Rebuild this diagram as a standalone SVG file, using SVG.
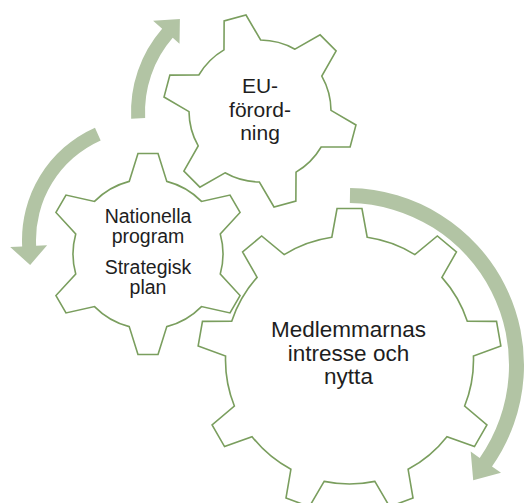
<svg xmlns="http://www.w3.org/2000/svg" width="528" height="503" viewBox="0 0 528 503">
<style>
.gear{fill:#ffffff;stroke:#7a9e5e;stroke-width:1.6;stroke-linejoin:miter}
.arrow{fill:#b2c4a4;stroke:none}
.t{font-family:"Liberation Sans",Arial,sans-serif;fill:#1e1e1e;text-anchor:middle}
</style>
<rect width="528" height="503" fill="#ffffff"/>
<g id="connectors">
<path class="arrow" d="M131.17,118.64 A127,127 0 0,1 162.15,28.68 L153.1,20.8 L179.9,18.9 L179.51,43.77 L172.72,37.86 A113,113 0 0,0 145.15,117.91 Z"/>
<path class="arrow" d="M94.98,127.64 A123,123 0 0,0 22.17,246.43 L10.19,247.06 L30.15,265.0 L47.14,245.13 L36.15,245.70 A109,109 0 0,1 100.67,140.43 Z"/>
<path class="arrow" d="M350.09,188.03 A177,177 0 0,1 492.0,466.53 L501.0,472.84 L473.2,480.2 L470.7,451.61 L479.71,457.92 A162,162 0 0,0 349.83,203.02 Z"/>
</g>
<g id="gear-eu">
<path class="gear" d="M223.97,49.83 L224.14,20.88 L246.0,15.02 L260.62,40.0 A71,71 0 0,1 294.96,49.20 L320.12,34.87 L336.13,50.88 L321.80,76.04 A71,71 0 0,1 331.0,110.38 L355.98,125.0 L350.12,146.86 L321.17,147.03 A71,71 0 0,1 296.03,172.17 L295.86,201.12 L274.0,206.98 L259.38,182.0 A71,71 0 0,1 225.04,172.80 L199.88,187.13 L183.87,171.12 L198.20,145.96 A71,71 0 0,1 189.0,111.62 L164.02,97.0 L169.88,75.14 L198.83,74.97 A71,71 0 0,1 223.97,49.83 Z"/>
<text class="t" font-size="21"><tspan x="260" y="93">EU-</tspan><tspan x="260" y="117">förord-</tspan><tspan x="260" y="140">ning</tspan></text>
</g>
<g id="gear-nationella">
<path class="gear" d="M129.22,181.39 L137.97,153.5 L158.03,153.5 L166.78,181.39 A75,75 0 0,1 201.50,201.43 L230.02,195.07 L240.05,212.44 L220.27,233.96 A75,75 0 0,1 220.27,274.04 L240.05,295.56 L230.02,312.93 L201.50,306.57 A75,75 0 0,1 166.78,326.61 L158.03,354.5 L137.97,354.5 L129.22,326.61 A75,75 0 0,1 94.50,306.57 L65.98,312.93 L55.95,295.56 L75.73,274.04 A75,75 0 0,1 75.73,233.96 L55.95,212.44 L65.98,195.07 L94.50,201.43 A75,75 0 0,1 129.22,181.39 Z"/>
<text class="t" font-size="19.5"><tspan x="148" y="223">Nationella</tspan><tspan x="148" y="243">program</tspan><tspan x="148" y="274">Strategisk</tspan><tspan x="148" y="294">plan</tspan></text>
</g>
<g id="gear-medlemmar">
<path class="gear" d="M331.81,237.26 L337.05,208.51 L361.95,208.51 L367.19,237.26 A124,124 0 0,1 414.85,254.61 L437.34,235.95 L456.42,251.96 L441.93,277.35 A124,124 0 0,1 467.3,321.27 L496.53,321.42 L500.85,345.96 L473.44,356.11 A124,124 0 0,1 464.63,406.05 L486.92,424.96 L474.46,446.53 L446.95,436.68 A124,124 0 0,1 408.1,469.28 L413.02,498.09 L389.61,506.62 L374.86,481.38 A124,124 0 0,1 324.14,481.38 L309.39,506.62 L285.98,498.09 L290.9,469.28 A124,124 0 0,1 252.05,436.68 L224.54,446.53 L212.08,424.96 L234.37,406.05 A124,124 0 0,1 225.56,356.11 L198.15,345.96 L202.47,321.42 L231.7,321.27 A124,124 0 0,1 257.07,277.35 L242.58,251.96 L261.66,235.95 L284.15,254.61 A124,124 0 0,1 331.81,237.26 Z"/>
<text class="t" font-size="22.5"><tspan x="348.5" y="337">Medlemmarnas</tspan><tspan x="348.5" y="361">intresse och</tspan><tspan x="348.5" y="384">nytta</tspan></text>
</g>
</svg>
